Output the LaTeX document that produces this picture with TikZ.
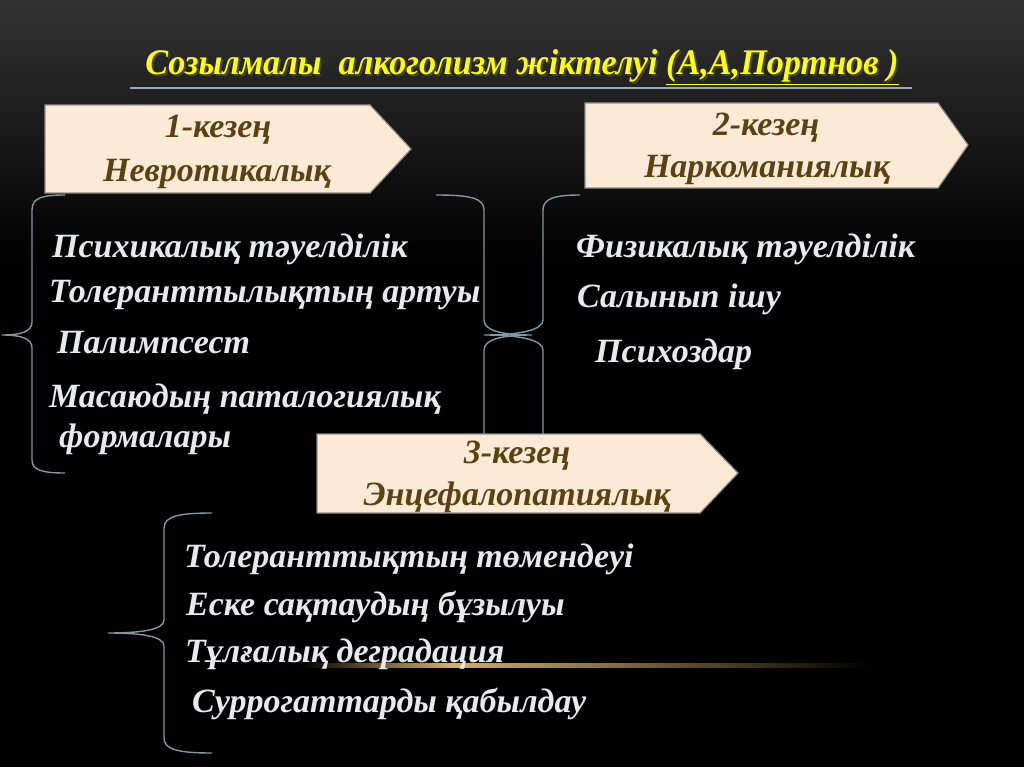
\documentclass[tikz,border=0pt]{standalone}
\usepackage{fontspec}
\setmainfont{Liberation Serif}
\newfontfamily\titlefont[FakeStretch=0.95]{Liberation Serif}
\usetikzlibrary{calc}
\definecolor{boxfill}{HTML}{FBEBD6}
\definecolor{boxline}{HTML}{8E8E8E}
\definecolor{boxtext}{HTML}{5C4213}
\definecolor{listtext}{HTML}{E6EAEE}
\definecolor{bracecol}{HTML}{8595A5}
\definecolor{glow}{HTML}{D8B060}
\definecolor{ttl}{HTML}{FFFF00}
\tikzset{
  stagebox/.style={fill=boxfill, draw=boxline, line width=1.2pt},
  stagetext/.style={text=boxtext, font=\fontsize{34}{36}\selectfont\bfseries\itshape, inner sep=0pt, anchor=base},
  item/.style={text=listtext, font=\fontsize{34}{36}\selectfont\bfseries\itshape, inner sep=0pt, anchor=base west},
  bracket/.style={draw=bracecol, line width=1.4pt},
  titletext/.style={font=\titlefont\fontsize{36}{38}\selectfont\bfseries\itshape, inner sep=0pt, anchor=base},
}
\begin{document}
\begin{tikzpicture}[x=1pt,y=-1pt]
\useasboundingbox (0,0) rectangle (1024,767);
% background
\fill[black] (0,0) rectangle (1024,767);
\shade[top color=black!80!white, bottom color=black] (0,0) rectangle (1024,260);
% glow line
\shade[left color=black, right color=glow] (300,663) rectangle (450,667);
\shade[left color=glow, right color=black] (450,663) rectangle (870,667);
% title
\node[titletext, text=black!75] at (524,77) {Созылмалы\ \ алкоголизм жіктелуі (А,А,Портнов )};
\node (title) [titletext, text=ttl] at (522,75) {Созылмалы\ \ алкоголизм жіктелуі \underline{(А,А,Портнов )}};
\draw[draw=bracecol!80, line width=1.2pt] (130,88) -- (912,88);
% braces
\path[bracket] (65,195) .. controls (42,195) and (32,198) .. (32,210) -- (32,322)
   .. controls (32,332) and (20,335) .. (2,335) .. controls (20,335) and (32,338) .. (32,348)
   -- (32,460) .. controls (32,470) and (42,473) .. (65,473);
\path[bracket] (436,195) .. controls (470,195) and (484,198) .. (484,210) -- (484,320)
   .. controls (484,330) and (500,335) .. (532,335) .. controls (500,335) and (484,340) .. (484,350)
   -- (484,462) .. controls (484,472) and (470,475) .. (436,475);
\path[bracket] (580,195) .. controls (556,195) and (543,198) .. (543,210) -- (543,320)
   .. controls (543,330) and (520,335) .. (484,335) .. controls (520,335) and (543,340) .. (543,350)
   -- (543,462) .. controls (543,472) and (556,475) .. (580,475);
\path[bracket] (212,513) .. controls (180,513) and (164,516) .. (164,528) -- (164,620)
   .. controls (164,630) and (140,633) .. (108,633) .. controls (140,633) and (164,636) .. (164,646)
   -- (164,738) .. controls (164,750) and (180,753) .. (212,753);
% stage boxes
\path[stagebox] (45,105) -- (370,105) -- (411,149) -- (370,193) -- (45,193) -- cycle;
\path[stagebox] (585,103) -- (938,103) -- (968,145) -- (938,188) -- (585,188) -- cycle;
\path[stagebox] (317,434) -- (700,434) -- (738,473) -- (700,513) -- (317,513) -- cycle;
\node (s1a) [stagetext] at (218,138) {1-кезең};
\node (s1b) [stagetext] at (217,182) {Невротикалық};
\node (s2a) [stagetext] at (766,136) {2-кезең};
\node (s2b) [stagetext] at (767,178) {Наркоманиялық};
\node (s3a) [stagetext] at (517,463) {3-кезең};
\node (s3b) [stagetext] at (517,505) {Энцефалопатиялық};
% lists
\node (a1) [item] at (52,257) {Психикалық тәуелділік};
\node (a2) [item] at (49,302) {Толеранттылықтың артуы};
\node (a3) [item] at (57,353) {Палимпсест};
\node (a4) [item] at (49,407) {Масаюдың паталогиялық};
\node (a5) [item] at (59,447) {формалары};
\node (b1) [item] at (576,257) {Физикалық тәуелділік};
\node (b2) [item] at (577,307) {Салынып ішу};
\node (b3) [item] at (595,362) {Психоздар};
\node (c1) [item] at (184,567) {Толеранттықтың төмендеуі};
\node (c2) [item] at (186,615) {Еске сақтаудың бұзылуы};
\node (c3) [item] at (185,662) {Тұлғалық деградация};
\node (c4) [item] at (192,712) {Суррогаттарды қабылдау};
\end{tikzpicture}
\end{document}
